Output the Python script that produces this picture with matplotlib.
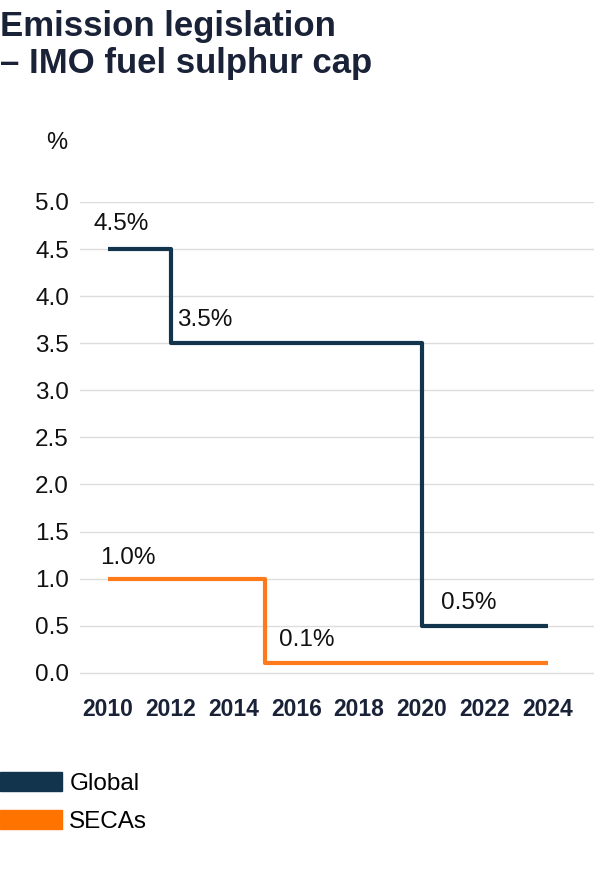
import matplotlib.pyplot as plt
from matplotlib.patches import Patch

plt.rcParams['font.family'] = ['Liberation Sans', 'DejaVu Sans']

# sulphur cap in % by year (step changes)
global_years = [2010, 2012, 2020, 2024]
global_cap = [4.5, 3.5, 0.5, 0.5]
seca_years = [2010, 2015, 2024]
seca_cap = [1.0, 0.1, 0.1]

# value labels: (x, y, text)
global_labels = [(2009.55, 4.77, '4.5%'), (2012.2, 3.75, '3.5%'), (2020.6, 0.74, '0.5%')]
seca_labels = [(2009.75, 1.22, '1.0%'), (2015.45, 0.35, '0.1%')]

navy = '#12344d'
orange = '#ff7a1a'
text_dark = '#1a2238'

fig = plt.figure(figsize=(5.94, 8.71), dpi=100)
ax = fig.add_axes([0.1347, 0.2113, 0.8653, 0.5568])

ax.plot(global_years, global_cap, drawstyle='steps-post', color=navy, lw=3, solid_capstyle='butt', zorder=3)
ax.plot(seca_years, seca_cap, drawstyle='steps-post', color=orange, lw=3, solid_capstyle='butt', zorder=3)

for x, y, t in global_labels + seca_labels:
    ax.text(x, y, t, fontsize=17.5, color='#111111', va='center', ha='left')

ax.set_xlim(2009.11, 2025.48)
ax.set_ylim(-0.15, 5.0)
ax.set_yticks([i * 0.5 for i in range(11)])
ax.set_yticklabels([f'{i * 0.5:.1f}' for i in range(11)])
ax.set_xticks(range(2010, 2025, 2))
ax.grid(axis='y', color='#dddddd', lw=1)
ax.set_axisbelow(True)
for s in ax.spines.values():
    s.set_visible(False)
ax.tick_params(axis='y', length=0, pad=8, labelsize=17.5, labelcolor='#111111')
ax.tick_params(axis='x', length=0, pad=8, labelsize=16.5, labelcolor=text_dark)
for lab in ax.get_xticklabels():
    lab.set_fontweight('bold')

fig.text(0.0, 0.988, 'Emission legislation\n– IMO fuel sulphur cap', fontsize=25, color=text_dark,
         fontweight='bold', va='top', ha='left', linespacing=1.12)
fig.text(57 / 594, 1 - 143 / 871, '%', fontsize=17, color='#111111', ha='center', va='center')

fig.legend(handles=[Patch(color=navy, label='Global'), Patch(color='#ff7300', label='SECAs')],
           loc='upper left', bbox_to_anchor=(0.0, 1 - 772 / 871), frameon=False, fontsize=17.5,
           handlelength=2.55, handleheight=0.85, handletextpad=0.3, labelspacing=0.6, borderaxespad=0,
           borderpad=0)

fig.savefig('out.png', dpi=100)
